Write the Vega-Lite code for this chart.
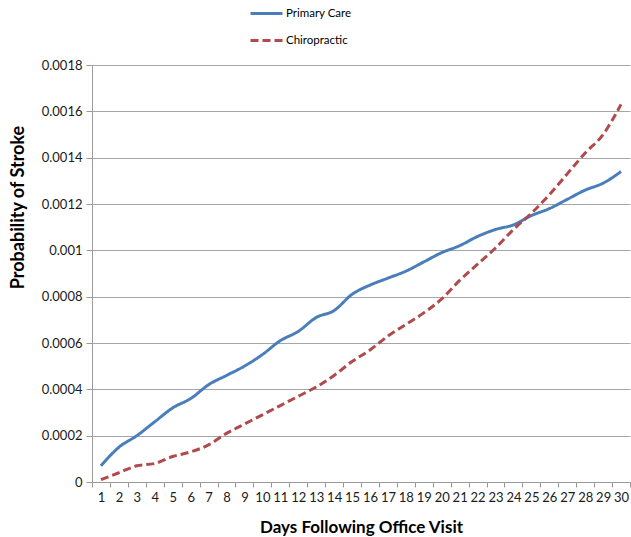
{
  "$schema": "https://vega.github.io/schema/vega-lite/v6.json",
  "width": 538,
  "height": 417,
  "autosize": {"type": "none"},
  "padding": {"left": 92, "top": 65, "right": 1, "bottom": 55},
  "background": "white",
  "config": {
    "font": "Lato",
    "view": {"stroke": null},
    "axis": {
      "domainColor": "#9a9a9a",
      "tickColor": "#9a9a9a",
      "gridColor": "#a6a6a6",
      "labelColor": "#1a1a1a",
      "titleColor": "#000000",
      "labelFontSize": 13,
      "titleFontWeight": "bold"
    }
  },
  "data": {
    "values": [
      {"day": 1, "series": "Primary Care", "p": 0.00007},
      {"day": 2, "series": "Primary Care", "p": 0.00015},
      {"day": 3, "series": "Primary Care", "p": 0.0002},
      {"day": 4, "series": "Primary Care", "p": 0.00026},
      {"day": 5, "series": "Primary Care", "p": 0.00032},
      {"day": 6, "series": "Primary Care", "p": 0.00036},
      {"day": 7, "series": "Primary Care", "p": 0.00042},
      {"day": 8, "series": "Primary Care", "p": 0.00046},
      {"day": 9, "series": "Primary Care", "p": 0.0005},
      {"day": 10, "series": "Primary Care", "p": 0.00055},
      {"day": 11, "series": "Primary Care", "p": 0.00061},
      {"day": 12, "series": "Primary Care", "p": 0.00065},
      {"day": 13, "series": "Primary Care", "p": 0.00071},
      {"day": 14, "series": "Primary Care", "p": 0.00074},
      {"day": 15, "series": "Primary Care", "p": 0.00081},
      {"day": 16, "series": "Primary Care", "p": 0.00085},
      {"day": 17, "series": "Primary Care", "p": 0.00088},
      {"day": 18, "series": "Primary Care", "p": 0.00091},
      {"day": 19, "series": "Primary Care", "p": 0.00095},
      {"day": 20, "series": "Primary Care", "p": 0.00099},
      {"day": 21, "series": "Primary Care", "p": 0.00102},
      {"day": 22, "series": "Primary Care", "p": 0.00106},
      {"day": 23, "series": "Primary Care", "p": 0.00109},
      {"day": 24, "series": "Primary Care", "p": 0.00111},
      {"day": 25, "series": "Primary Care", "p": 0.00115},
      {"day": 26, "series": "Primary Care", "p": 0.00118},
      {"day": 27, "series": "Primary Care", "p": 0.00122},
      {"day": 28, "series": "Primary Care", "p": 0.00126},
      {"day": 29, "series": "Primary Care", "p": 0.00129},
      {"day": 30, "series": "Primary Care", "p": 0.00134},
      {"day": 1, "series": "Chiropractic", "p": 0.00001},
      {"day": 2, "series": "Chiropractic", "p": 0.00004},
      {"day": 3, "series": "Chiropractic", "p": 0.00007},
      {"day": 4, "series": "Chiropractic", "p": 0.00008},
      {"day": 5, "series": "Chiropractic", "p": 0.00011},
      {"day": 6, "series": "Chiropractic", "p": 0.00013},
      {"day": 7, "series": "Chiropractic", "p": 0.00016},
      {"day": 8, "series": "Chiropractic", "p": 0.00021},
      {"day": 9, "series": "Chiropractic", "p": 0.00025},
      {"day": 10, "series": "Chiropractic", "p": 0.00029},
      {"day": 11, "series": "Chiropractic", "p": 0.00033},
      {"day": 12, "series": "Chiropractic", "p": 0.00037},
      {"day": 13, "series": "Chiropractic", "p": 0.00041},
      {"day": 14, "series": "Chiropractic", "p": 0.00046},
      {"day": 15, "series": "Chiropractic", "p": 0.00052},
      {"day": 16, "series": "Chiropractic", "p": 0.00057},
      {"day": 17, "series": "Chiropractic", "p": 0.00063},
      {"day": 18, "series": "Chiropractic", "p": 0.00068},
      {"day": 19, "series": "Chiropractic", "p": 0.00073},
      {"day": 20, "series": "Chiropractic", "p": 0.00079},
      {"day": 21, "series": "Chiropractic", "p": 0.00087},
      {"day": 22, "series": "Chiropractic", "p": 0.00094},
      {"day": 23, "series": "Chiropractic", "p": 0.00101},
      {"day": 24, "series": "Chiropractic", "p": 0.00109},
      {"day": 25, "series": "Chiropractic", "p": 0.00116},
      {"day": 26, "series": "Chiropractic", "p": 0.00124},
      {"day": 27, "series": "Chiropractic", "p": 0.00133},
      {"day": 28, "series": "Chiropractic", "p": 0.00142},
      {"day": 29, "series": "Chiropractic", "p": 0.0015},
      {"day": 30, "series": "Chiropractic", "p": 0.00163}
    ]
  },
  "mark": {"type": "line", "strokeWidth": 3, "interpolate": "monotone"},
  "encoding": {
    "x": {
      "field": "day",
      "type": "quantitative",
      "scale": {"domain": [0.5, 30.5], "nice": false, "zero": false},
      "axis": {
        "title": "Days Following Office Visit",
        "titleFontSize": 17,
        "values": [0.5, 1.5, 2.5, 3.5, 4.5, 5.5, 6.5, 7.5, 8.5, 9.5, 10.5, 11.5, 12.5, 13.5, 14.5, 15.5, 16.5, 17.5, 18.5, 19.5, 20.5, 21.5, 22.5, 23.5, 24.5, 25.5, 26.5, 27.5, 28.5, 29.5, 30.5],
        "labelExpr": "datum.value < 30 ? format(datum.value + 0.5, 'd') : ''",
        "labelOffset": 9,
        "labelFlush": false,
        "labelOverlap": false,
        "labelBound": false,
        "grid": false,
        "tickSize": 5,
        "labelPadding": 4,
        "titlePadding": 15
      }
    },
    "y": {
      "field": "p",
      "type": "quantitative",
      "scale": {"domain": [0, 0.0018], "nice": false},
      "axis": {
        "title": "Probability of Stroke",
        "titleFontSize": 18,
        "values": [0, 0.0002, 0.0004, 0.0006, 0.0008, 0.001, 0.0012, 0.0014, 0.0016, 0.0018],
        "format": "~g",
        "grid": true,
        "tickSize": 6,
        "labelPadding": 4,
        "titleX": -65,
        "titleY": 142,
        "titleAngle": -90,
        "titleBaseline": "bottom",
        "titleAlign": "center"
      }
    },
    "color": {
      "field": "series",
      "type": "nominal",
      "scale": {"domain": ["Primary Care", "Chiropractic"], "range": ["#4a7ebb", "#b04a4c"]},
      "legend": {
        "title": null,
        "orient": "none",
        "legendX": 157,
        "legendY": -69,
        "direction": "vertical",
        "symbolType": "stroke",
        "symbolSize": 1024,
        "symbolStrokeWidth": 3,
        "labelFontSize": 11.5,
        "labelOffset": 2,
        "rowPadding": 3,
        "padding": 0
      }
    },
    "strokeDash": {
      "field": "series",
      "type": "nominal",
      "scale": {"domain": ["Primary Care", "Chiropractic"], "range": [[1, 0], [8, 4]]},
      "legend": null
    }
  }
}
